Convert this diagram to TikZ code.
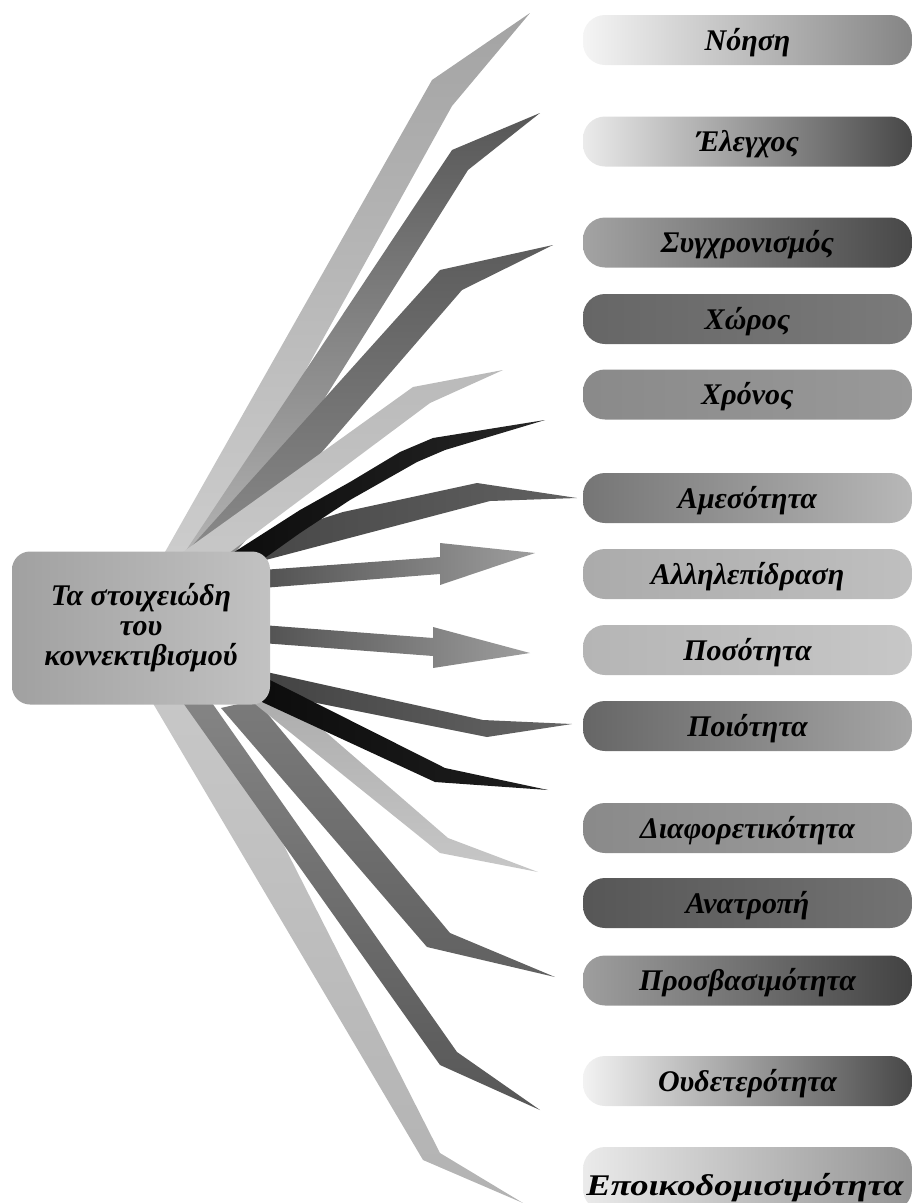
\documentclass[tikz,border=0pt]{standalone}
\usepackage{fontspec}
\setmainfont{Liberation Serif}
\newcommand\blade[6]{\shade[#1] #2 -- #3 -- #4 -- #5 -- #6 -- cycle;}
\begin{document}
\begin{tikzpicture}[x=1pt,y=-1pt,
  lbl/.style={font=\fontsize{30}{31}\selectfont\bfseries\itshape, text=black},
  pill/.style={lbl, rounded corners=22pt, minimum width=329pt, minimum height=50pt,
    inner sep=0pt, text height=26pt, text depth=6pt},
  hub/.style={lbl, rounded corners=18pt, minimum width=258pt, minimum height=153pt,
    inner sep=0pt, align=center, left color=black!37, right color=black!24},
  ]
\useasboundingbox (0,0) rectangle (913,1203);
% ---------- tips of the connectors ----------
\coordinate (tA) at (530,13);
\coordinate (tB) at (540,113);
\coordinate (tC) at (553,245);
\coordinate (tD) at (503,370);
\coordinate (tE) at (545,420);
\coordinate (tF) at (577,498);
\coordinate (tG) at (535,553);
\coordinate (tH) at (530,653);
\coordinate (tI) at (572,724);
\coordinate (tJ) at (548,790);
\coordinate (tK) at (538,872);
\coordinate (tL) at (555,977);
\coordinate (tM) at (540,1110);
\coordinate (tN) at (523,1203);
% ---------- upper blades ----------
\blade{top color=black!36, bottom color=black!20}{(165,552)}{(432,80)}{(tA)}{(452,106)}{(205,552)}
\blade{top color=black!66, bottom color=black!30}{(185,552)}{(452,150)}{(tB)}{(468,170)}{(228,552)}
\blade{top color=black!64, bottom color=black!46}{(190,548)}{(440,270)}{(tC)}{(462,290)}{(232,556)}
\blade{top color=black!27, bottom color=black!22}{(183,552)}{(413,387)}{(tD)}{(430,403)}{(225,556)}
\shade[left color=black!72, right color=black!62] (255,540) -- (343,512) -- (477,483) -- (tF) -- (490,501) -- (258,562) -- cycle;
\shade[left color=black!95, right color=black!85] (228,556) -- (300,510) -- (350,482) -- (400,452) -- (433,438) -- (tE)
   -- (445,450) -- (417,462) -- (350,500) -- (300,533) -- (262,560) -- cycle;
% ---------- arrows ----------
\shade[left color=black!68, right color=black!38] (262,570) -- (440,557) -- (440,543) -- (tG) -- (440,585) -- (440,574) -- (262,588) -- cycle;
\shade[left color=black!68, right color=black!38] (262,625) -- (433,638) -- (433,627) -- (tH) -- (433,668) -- (433,656) -- (262,643) -- cycle;
% ---------- lower blades ----------
\blade{top color=black!22, bottom color=black!30}{(210,700)}{(440,1153)}{(tN)}{(423,1160)}{(151,700)}
\blade{top color=black!48, bottom color=black!66}{(210,700)}{(457,1052)}{(tM)}{(440,1065)}{(181,700)}
\blade{top color=black!52, bottom color=black!62}{(256,700)}{(450,933)}{(tL)}{(427,947)}{(221,708)}
\blade{top color=black!32, bottom color=black!22}{(291,702)}{(448,838)}{(tK)}{(440,853)}{(250,700)}
\shade[left color=black!74, right color=black!60] (262,671) -- (483,720) -- (tI) -- (487,737) -- (262,692) -- cycle;
\shade[left color=black!95, right color=black!88] (262,676) -- (445,768) -- (tJ) -- (435,782) -- (262,702) -- cycle;
% ---------- central node ----------
\node[hub] (hub) at (141,628) {Τα στοιχειώδη\\[-1pt]του\\[-1pt]κοννεκτιβισμού};
% ---------- pills ----------
\node[pill, left color=black!4,  right color=black!48] (p1)  at (747.5,40)   {Νόηση};
\node[pill, left color=black!8,  right color=black!72] (p2)  at (747.5,141.5) {Έλεγχος};
\node[pill, left color=black!36, right color=black!72] (p3)  at (747.5,242.5) {Συγχρονισμός};
\node[pill, left color=black!60, right color=black!52] (p4)  at (747.5,319)   {Χώρος};
\node[pill, left color=black!46, right color=black!40] (p5)  at (747.5,394.5) {Χρόνος};
\node[pill, left color=black!54, right color=black!28] (p6)  at (747.5,498)   {Αμεσότητα};
\node[pill, left color=black!33, right color=black!25] (p7)  at (747.5,574)   {Αλληλεπίδραση};
\node[pill, left color=black!29, right color=black!22] (p8)  at (747.5,650)   {Ποσότητα};
\node[pill, left color=black!60, right color=black!35] (p9)  at (747.5,726)   {Ποιότητα};
\node[pill, left color=black!46, right color=black!38] (p10) at (747.5,828)   {Διαφορετικότητα};
\node[pill, left color=black!66, right color=black!55] (p11) at (747.5,903)   {Ανατροπή};
\node[pill, left color=black!38, right color=black!74] (p12) at (747.5,980.5) {Προσβασιμότητα};
\node[pill, left color=black!5,  right color=black!72] (p13) at (747.5,1081)  {Ουδετερότητα};
\node[pill, minimum height=64pt, left color=black!8, right color=black!42] (p14) at (747.5,1179) {};
\node[lbl, anchor=base] (t14) at (745,1195) {\scalebox{1.22}[1]{Εποικοδομισιμότητα}};
\end{tikzpicture}
\end{document}
